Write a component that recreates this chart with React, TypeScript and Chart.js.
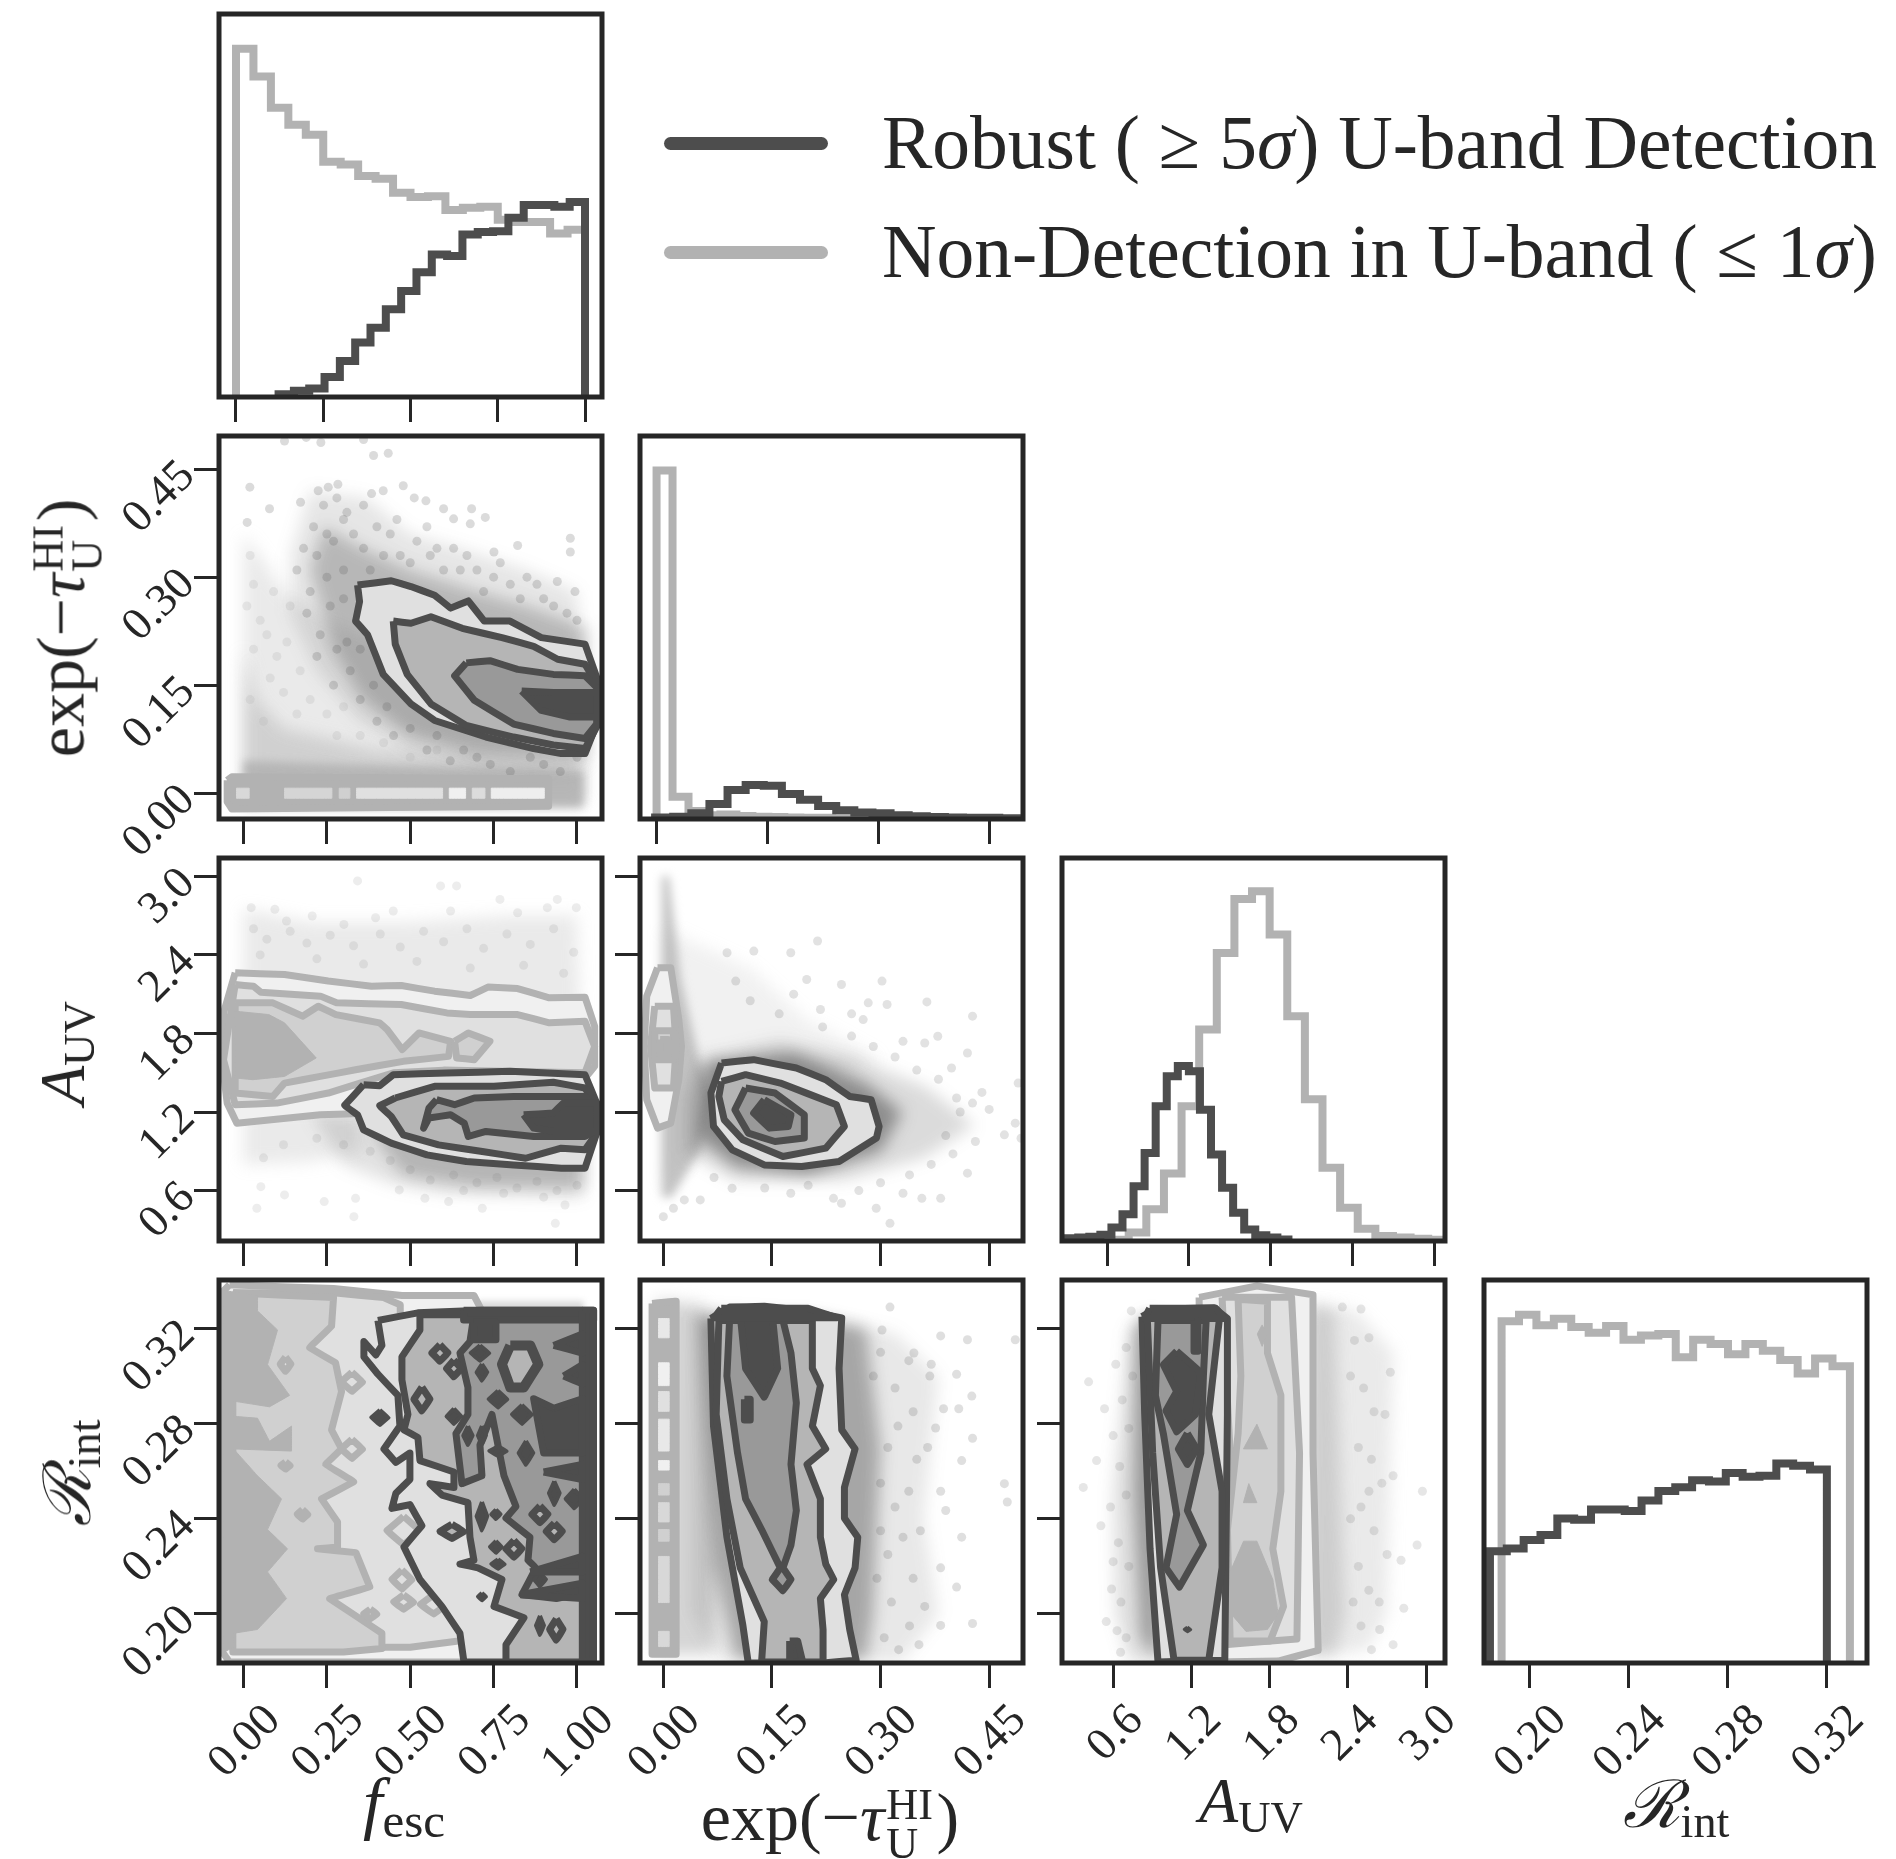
import React, { useEffect, useRef } from "react";
import { Chart, registerables } from "chart.js";

const DARK = "#4d4d4d";
const LIGHT = "#b2b2b2";
const INK = "#262626";
const SERIF = "'Liberation Serif', 'Times New Roman', serif";
const LIGHT_LEVELS = ["#f0f0f0", "#e0e0e0", "#d0d0d0", "#b2b2b2"];
const DARK_LEVELS = ["#e0e0e0", "#b5b5b5", "#999999", "#4d4d4d"];

// Axis ticks
const FESC_TICKS = [0, 0.25, 0.5, 0.75, 1];
const FESC_LABELS = ["0.00", "0.25", "0.50", "0.75", "1.00"];
const TAU_TICKS = [0, 0.15, 0.3, 0.45];
const TAU_LABELS = ["0.00", "0.15", "0.30", "0.45"];
const AUV_TICKS = [0.6, 1.2, 1.8, 2.4, 3.0];
const AUV_LABELS = ["0.6", "1.2", "1.8", "2.4", "3.0"];
const R_TICKS = [0.2, 0.24, 0.28, 0.32];
const R_LABELS = ["0.20", "0.24", "0.28", "0.32"];

// Histograms: heights as a fraction of the panel, first edge and bin width
const FESC_HIST_LIGHT = [0.909, 0.837, 0.755, 0.711, 0.685, 0.614, 0.607, 0.577, 0.57, 0.533, 0.522, 0.524, 0.488, 0.494, 0.497, 0.463, 0.457, 0.457, 0.427, 0.437];
const FESC_HIST_DARK = [0.007, 0.016, 0.022, 0.052, 0.094, 0.142, 0.181, 0.229, 0.277, 0.326, 0.372, 0.368, 0.424, 0.431, 0.433, 0.468, 0.501, 0.501, 0.497, 0.509];
const TAU_HIST_LIGHT = [0.91, 0.058, 0.021, 0.01, 0.012, 0.008, 0.006, 0.005, 0.004, 0.003, 0.003, 0.002, 0.002, 0.001, 0.001, 0.001, 0.001, 0.001, 0.001, 0.001];
const TAU_HIST_DARK = [0.004, 0.006, 0.015, 0.039, 0.076, 0.089, 0.087, 0.065, 0.05, 0.034, 0.023, 0.017, 0.015, 0.01, 0.007, 0.005, 0.004, 0.0035, 0.003, 0.002];
const AUV_HIST_LIGHT = [0.0, 0.003, 0.022, 0.083, 0.176, 0.352, 0.552, 0.752, 0.893, 0.913, 0.8, 0.587, 0.37, 0.191, 0.087, 0.032, 0.013, 0.009, 0.006, 0.003];
const AUV_HIST_DARK = [0.007, 0.009, 0.011, 0.016, 0.035, 0.07, 0.143, 0.23, 0.352, 0.43, 0.457, 0.443, 0.343, 0.226, 0.139, 0.074, 0.03, 0.015, 0.009, 0.004];
const R_HIST_LIGHT = [0.892, 0.909, 0.882, 0.899, 0.877, 0.862, 0.88, 0.844, 0.855, 0.859, 0.798, 0.844, 0.833, 0.806, 0.833, 0.815, 0.791, 0.756, 0.795, 0.775];
const R_HIST_DARK = [0.292, 0.299, 0.321, 0.334, 0.377, 0.374, 0.401, 0.401, 0.397, 0.424, 0.449, 0.459, 0.477, 0.474, 0.496, 0.486, 0.489, 0.521, 0.515, 0.505];

type P = number[];

// fesc vs exp(-tau)
const FT_DARK_1: P[] = [[0.342,0.289],[0.443,0.295],[0.502,0.287],[0.573,0.275],[0.621,0.257],[0.674,0.267],[0.722,0.239],[0.799,0.239],[0.893,0.216],[1.024,0.207],[1.059,0.161],[1.059,0.096],[1.024,0.055],[0.953,0.055],[0.87,0.062],[0.727,0.078],[0.573,0.101],[0.502,0.124],[0.419,0.165],[0.372,0.22],[0.336,0.239],[0.348,0.266]];
const FT_DARK_2: P[] = [[0.449,0.239],[0.502,0.236],[0.562,0.245],[0.656,0.229],[0.775,0.216],[0.87,0.204],[0.942,0.186],[1.024,0.179],[1.059,0.152],[1.059,0.092],[1.024,0.062],[0.929,0.067],[0.81,0.078],[0.668,0.094],[0.562,0.124],[0.491,0.165],[0.455,0.207]];
const FT_DARK_3: P[] = [[0.668,0.181],[0.739,0.184],[0.822,0.172],[0.929,0.165],[1.024,0.163],[1.059,0.147],[1.059,0.096],[1.024,0.076],[0.929,0.083],[0.81,0.096],[0.692,0.129],[0.633,0.163]];
const FT_DARK_4: P[] = [[0.834,0.142],[0.929,0.14],[1.059,0.14],[1.059,0.106],[0.976,0.106],[0.893,0.115]];
const FT_LIGHT_BAND: P[] = [[-0.049,0.018],[-0.035,0.023],[0.915,0.02],[0.915,-0.018],[-0.035,-0.022],[-0.049,-0.012]];
const FT_LIGHT_BAR_STARTS = [-0.021, 0.123, 0.287, 0.339, 0.617, 0.686, 0.743];
const FT_LIGHT_BAR_ENDS = [0.017, 0.265, 0.319, 0.597, 0.666, 0.724, 0.902];
const FT_LIGHT_BAR_LEVELS = ["#d8d8d8", "#d5d5d5", "#d0d0d0", "#e0e0e0", "#f0f0f0", "#dcdcdc", "#eeeeee"];
const FT_CLOUD_LIGHT_1: P[] = [[0,0],[0,0.36],[0.05,0.33],[0.12,0.28],[0.25,0.24],[0.45,0.2],[0.7,0.14],[1.02,0.12],[1.02,-0.01]];
const FT_CLOUD_LIGHT_2: P[] = [[0,-0.015],[0,0.2],[0.04,0.13],[0.12,0.09],[0.4,0.06],[1.02,0.04],[1.02,-0.015]];
const FT_CLOUD_LIGHT_3: P[] = [[0,0.045],[0.3,0.04],[0.7,0.035],[1.02,0.03],[1.02,-0.02],[0,-0.02]];
const FT_CLOUD_DARK_1: P[] = [[0.14,0.33],[0.2,0.42],[0.37,0.41],[0.5,0.36],[0.65,0.34],[0.85,0.31],[1.0,0.28],[1.03,0.04],[0.9,0.03],[0.7,0.04],[0.5,0.06],[0.35,0.1],[0.22,0.17],[0.14,0.25]];
const FT_CLOUD_DARK_2: P[] = [[0.2,0.31],[0.24,0.37],[0.36,0.34],[0.5,0.31],[0.7,0.28],[0.85,0.26],[1.03,0.23],[1.03,0.05],[0.7,0.055],[0.5,0.08],[0.36,0.13],[0.27,0.2]];
const FT_POINTS: P[] = [[0.123,0.489],[0.188,0.494],[0.232,0.487],[0.36,0.491],[0.39,0.469],[0.434,0.472],[0.019,0.425],[0.283,0.429],[0.254,0.425],[0.224,0.42],[0.479,0.427],[0.419,0.42],[0.384,0.416],[0.512,0.41],[0.547,0.406],[0.171,0.404],[0.078,0.395],[0.6,0.395],[0.684,0.395],[0.725,0.383],[0.68,0.374],[0.63,0.381],[0.011,0.376],[0.98,0.354],[0.98,0.335],[0.822,0.344],[0.751,0.335],[0.941,0.294],[0.994,0.28],[0.3,0.38],[0.27,0.35],[0.33,0.36],[0.36,0.34],[0.4,0.37],[0.44,0.36],[0.47,0.33],[0.52,0.35],[0.56,0.33],[0.6,0.31],[0.65,0.31],[0.7,0.31],[0.75,0.3],[0.8,0.29],[0.85,0.3],[0.9,0.27],[0.3,0.31],[0.25,0.3],[0.22,0.33],[0.2,0.28],[0.26,0.26],[0.23,0.22],[0.28,0.2],[0.32,0.17],[0.35,0.13],[0.4,0.1],[0.45,0.08],[0.55,0.06],[0.62,0.045],[0.7,0.05],[0.8,0.03],[0.9,0.04],[0.24,0.4],[0.28,0.41],[0.31,0.39],[0.36,0.4],[0.21,0.37],[0.25,0.36],[0.18,0.34],[0.16,0.31],[0.19,0.25],[0.22,0.19],[0.27,0.15],[0.31,0.21],[0.35,0.2],[0.38,0.31],[0.42,0.33],[0.46,0.38],[0.5,0.32],[0.55,0.37],[0.58,0.34],[0.63,0.34],[0.67,0.33],[0.72,0.28],[0.77,0.32],[0.83,0.27],[0.88,0.29],[0.93,0.26],[0.97,0.25],[1.0,0.24],[0.43,0.12],[0.5,0.09],[0.58,0.08],[0.66,0.06],[0.74,0.04],[0.86,0.05],[0.95,0.03],[1.0,0.05],[0.39,0.15],[0.34,0.24],[0.3,0.27]];
const FT_POINTS_LIGHT: P[] = [[0.02,0.33],[0.03,0.29],[0.01,0.26],[0.05,0.24],[0.03,0.2],[0.07,0.22],[0.1,0.19],[0.13,0.21],[0.08,0.16],[0.12,0.14],[0.17,0.17],[0.2,0.13],[0.16,0.11],[0.25,0.11],[0.3,0.12],[0.28,0.08],[0.35,0.08],[0.42,0.07],[0.5,0.05],[0.58,0.06],[0.66,0.09],[0.72,0.08],[0.8,0.07],[0.88,0.09],[0.94,0.07],[1.0,0.08],[0.06,0.1],[0.02,0.13],[0.14,0.26],[0.09,0.28]];

// fesc vs A_UV
const FA_LIGHT_1: P[] = [[-0.025,2.263],[0.123,2.25],[0.254,2.2],[0.384,2.161],[0.473,2.166],[0.573,2.123],[0.68,2.09],[0.733,2.154],[0.822,2.143],[0.917,2.072],[1.024,2.077],[1.053,1.855],[1.053,1.549],[1.024,1.46],[0.8,1.3],[0.384,1.192],[0.23,1.179],[-0.02,1.115],[-0.049,1.268],[-0.06,1.498],[-0.06,1.957]];
const FA_LIGHT_2: P[] = [[-0.025,2.174],[0.03,2.16],[0.052,2.115],[0.231,2.085],[0.279,2.034],[0.473,2.021],[0.61,1.957],[0.68,1.944],[0.822,1.944],[0.917,1.881],[1.024,1.893],[1.053,1.7],[1.024,1.5],[0.6,1.52],[0.45,1.5],[0.254,1.345],[0.1,1.268],[-0.025,1.256],[-0.06,1.6]];
const FA_LIGHT_3: P[] = [[-0.025,2.034],[0.088,2.034],[0.177,1.932],[0.224,2.008],[0.277,1.944],[0.408,1.881],[0.431,1.83],[0.476,1.677],[0.526,1.804],[0.621,1.74],[0.615,1.625],[0.479,1.587],[0.336,1.523],[0.23,1.472],[0.123,1.421],[0.088,1.319],[-0.025,1.345]];
const FA_LIGHT_3B: P[] = [[0.633,1.74],[0.674,1.804],[0.739,1.74],[0.692,1.6],[0.639,1.613]];
const FA_LIGHT_4: P[] = [[-0.025,1.97],[0.076,1.944],[0.123,1.881],[0.218,1.613],[0.123,1.472],[0.028,1.447],[-0.025,1.46]];
const FA_DARK_1: P[] = [[0.36,1.409],[0.408,1.401],[0.449,1.485],[0.609,1.498],[0.799,1.511],[1.024,1.485],[1.059,1.268],[1.059,1.039],[1.024,0.771],[0.953,0.771],[0.81,0.796],[0.668,0.822],[0.55,0.873],[0.443,0.962],[0.36,1.064],[0.342,1.179],[0.303,1.25]];
const FA_DARK_2: P[] = [[0.455,1.307],[0.573,1.396],[0.751,1.396],[0.929,1.427],[1.024,1.383],[1.059,1.243],[1.059,1.039],[1.024,0.911],[0.953,0.924],[0.846,0.847],[0.716,0.898],[0.585,0.949],[0.479,1.026],[0.443,1.166],[0.408,1.248]];
const FA_DARK_3: P[] = [[0.579,1.294],[0.633,1.256],[0.692,1.307],[0.81,1.319],[1.024,1.319],[1.059,1.217],[1.059,1.064],[1.024,1.013],[0.87,1.013],[0.727,1.052],[0.674,1.013],[0.662,1.115],[0.621,1.179],[0.556,1.154],[0.54,1.077],[0.556,1.23]];
const FA_DARK_4: P[] = [[0.84,1.179],[0.929,1.192],[0.959,1.268],[1.059,1.268],[1.059,1.052],[0.929,1.052],[0.87,1.077]];
const FA_CLOUD_LIGHT: P[] = [[0,2.75],[0.2,2.65],[0.5,2.65],[0.8,2.7],[1.0,2.7],[1.02,1.2],[0,1.2]];
const FA_CLOUD_LIGHT_LOW: P[] = [[0,1.2],[0.35,1.2],[0.35,0.9],[0.2,0.82],[0,0.8]];
const FA_CLOUD_DARK_1: P[] = [[0.2,1.2],[0.4,1.15],[0.6,1.1],[1.02,1.1],[1.02,0.55],[0.6,0.58],[0.45,0.65],[0.3,0.8]];
const FA_CLOUD_DARK_2: P[] = [[0.38,1.05],[1.02,0.95],[1.02,0.62],[0.7,0.63],[0.48,0.72]];
const FA_POINTS: P[] = [[0.342,2.965],[0.591,2.927],[0.639,2.927],[0.769,2.824],[0.023,2.761],[0.094,2.748],[0.941,2.824],[0.998,2.761],[0.911,2.761],[0.822,2.722],[0.621,2.735],[0.449,2.735],[0.206,2.697],[0.129,2.659],[0.396,2.684],[0.301,2.633],[0.04,0.465],[0.242,0.516],[0.331,0.401],[0.123,0.567],[0.716,0.465],[0.935,0.35],[0.544,0.541],[0.615,0.516],[0.964,0.49],[0.052,0.63],[0.336,0.541],[0.467,0.605],[0.03,2.6],[0.07,2.52],[0.14,2.58],[0.19,2.49],[0.26,2.55],[0.33,2.47],[0.41,2.56],[0.47,2.46],[0.54,2.58],[0.6,2.5],[0.67,2.6],[0.72,2.45],[0.79,2.56],[0.86,2.48],[0.93,2.6],[0.99,2.42],[0.05,2.4],[0.22,2.37],[0.36,2.33],[0.52,2.35],[0.68,2.3],[0.84,2.32],[0.96,2.26],[0.56,0.68],[0.63,0.72],[0.7,0.66],[0.76,0.7],[0.82,0.62],[0.88,0.67],[0.94,0.6],[1.0,0.64],[0.5,0.76],[0.44,0.83],[0.38,0.9],[0.3,0.95],[0.22,1.0],[0.12,0.95],[0.06,0.85],[0.66,0.6],[0.78,0.58],[0.9,0.55]];

// fesc vs R_int
const FR_LIGHT_1: P[] = [[-0.042,0.3384],[0.27,0.3368],[0.475,0.3339],[0.691,0.3339],[0.715,0.3274],[1.004,0.3274],[1.028,0.1798],[0.27,0.1798],[-0.042,0.1798],[-0.0625,0.1839],[-0.0625,0.3355]];
const FR_LIGHT_2: P[] = [[-0.03,0.335],[0.27,0.335],[0.42,0.333],[0.47,0.33],[0.47,0.3],[0.55,0.28],[0.62,0.26],[0.72,0.25],[0.8,0.22],[0.75,0.19],[0.72,0.19],[0.5,0.186],[0.35,0.186],[-0.03,0.186]];
const FR_LIGHT_3: P[] = [[-0.032,0.335],[0.27,0.333],[0.264,0.321],[0.198,0.312],[0.276,0.3056],[0.294,0.2935],[0.264,0.2774],[0.294,0.2694],[0.246,0.2629],[0.331,0.2556],[0.234,0.2484],[0.282,0.2387],[0.282,0.2282],[0.222,0.2274],[0.337,0.2258],[0.379,0.2113],[0.258,0.2065],[0.415,0.1919],[0.415,0.1855],[0.3,0.184],[-0.032,0.184]];
const FR_LIGHT_4: P[] = [[-0.06,0.336],[0.042,0.3339],[0.042,0.3274],[0.102,0.3194],[0.072,0.3048],[0.138,0.2919],[0.078,0.2871],[-0.03,0.2895],[-0.03,0.2831],[0.042,0.2823],[0.078,0.2726],[0.144,0.279],[0.144,0.2685],[-0.03,0.2694],[0.042,0.2581],[0.114,0.2484],[0.072,0.2355],[0.132,0.2274],[0.072,0.2177],[0.129,0.2065],[0.042,0.1935],[-0.03,0.1919],[-0.03,0.186],[-0.06,0.1839]];
const FR_LIGHT_SPOTS: P[] = [[0.126,0.305,0.016,0.003],[0.126,0.2624,0.014,0.0015],[0.177,0.2419,0.016,0.002],[0.325,0.2976,0.032,0.004],[0.325,0.2694,0.032,0.004],[0.48,0.235,0.05,0.006],[0.38,0.2,0.02,0.002],[0.48,0.205,0.03,0.003],[0.475,0.2145,0.03,0.004],[0.57,0.204,0.04,0.004]];
const FR_DARK_1: P[] = [[0.403,0.3234],[0.523,0.3266],[0.715,0.3277],[1.016,0.3277],[1.046,0.3242],[1.049,0.1798],[0.661,0.1798],[0.649,0.1919],[0.595,0.2032],[0.529,0.2145],[0.481,0.2282],[0.535,0.2371],[0.499,0.246],[0.445,0.2444],[0.457,0.2508],[0.499,0.2565],[0.499,0.2677],[0.457,0.2637],[0.421,0.2694],[0.469,0.279],[0.463,0.2919],[0.403,0.3008],[0.361,0.3081],[0.361,0.3145],[0.397,0.3089],[0.415,0.3129]];
const FR_DARK_2: P[] = [[0.529,0.3258],[0.529,0.3194],[0.475,0.3081],[0.475,0.2984],[0.493,0.2839],[0.481,0.2774],[0.523,0.2742],[0.529,0.2645],[0.631,0.2597],[0.631,0.2532],[0.559,0.2548],[0.595,0.25],[0.673,0.2468],[0.679,0.2323],[0.691,0.2226],[0.649,0.221],[0.703,0.2194],[0.775,0.2145],[0.751,0.2032],[0.841,0.1984],[0.787,0.1871],[0.787,0.1798],[1.049,0.1798],[1.049,0.3258]];
const FR_DARK_3: P[] = [[0.691,0.3258],[0.679,0.3145],[0.649,0.3097],[0.673,0.2952],[0.673,0.2839],[0.637,0.2758],[0.655,0.2548],[0.715,0.2581],[0.709,0.271],[0.745,0.2839],[0.781,0.2581],[0.817,0.2452],[0.787,0.2403],[0.859,0.2323],[0.853,0.2226],[0.877,0.2194],[0.835,0.2081],[0.938,0.2065],[1.049,0.2097],[1.049,0.3258]];
const FR_DARK_TOP: P[] = [[0.66,0.3277],[1.05,0.3277],[1.05,0.3236],[0.66,0.3236]];
const FR_DARK_COLUMN: P[] = [[1.016,0.3277],[1.049,0.3277],[1.049,0.18],[1.016,0.18]];
const FR_DARK_PATCH_1: P[] = [[0.93,0.2865],[1.016,0.2905],[1.016,0.2677],[0.9,0.2677],[0.87,0.2905]];
const FR_DARK_PATCH_2: P[] = [[0.69,0.3226],[0.757,0.3226],[0.757,0.3153],[0.69,0.3153]];
const FR_DARK_WEDGE_1: P[] = [[0.93,0.3129],[1.016,0.3177],[1.016,0.3097]];
const FR_DARK_WEDGE_2: P[] = [[0.96,0.3],[1.016,0.3048],[1.016,0.2968]];
const FR_DARK_WEDGE_3: P[] = [[0.9,0.2597],[1.016,0.2629],[1.016,0.2565]];
const FR_DARK_WEDGE_4: P[] = [[0.86,0.2177],[1.016,0.2242],[1.016,0.2177]];
const FR_DARK_WEDGE_5: P[] = [[0.83,0.2081],[1.016,0.2129],[1.016,0.2065]];
const FR_DARK_RING: P[] = [[0.8,0.3129],[0.86,0.3129],[0.884,0.305],[0.84,0.2952],[0.8,0.2952],[0.775,0.305]];
const FR_DARK_SPOTS: P[] = [[0.409,0.2826,0.026,0.0032],[0.631,0.2831,0.022,0.0032],[0.709,0.3097,0.028,0.0032],[0.715,0.3016,0.016,0.0035],[0.763,0.2903,0.028,0.0035],[0.673,0.275,0.014,0.004],[0.715,0.275,0.012,0.004],[0.763,0.2685,0.026,0.002],[0.847,0.2677,0.022,0.005],[0.835,0.2839,0.03,0.004],[0.715,0.2411,0.016,0.006],[0.757,0.2419,0.014,0.002],[0.757,0.2282,0.018,0.0025],[0.763,0.221,0.02,0.002],[0.889,0.2145,0.018,0.003],[0.715,0.2073,0.012,0.0015],[0.889,0.1952,0.012,0.004],[0.932,0.2508,0.016,0.005],[0.992,0.2484,0.026,0.004]];
const FR_DARK_RINGS: P[] = [[0.535,0.2903,0.024,0.005],[0.589,0.3097,0.024,0.0035],[0.631,0.3032,0.022,0.0035],[0.889,0.2419,0.024,0.0035],[0.932,0.2347,0.024,0.0035],[0.625,0.2347,0.036,0.003],[0.811,0.2274,0.024,0.0035],[0.938,0.1935,0.02,0.0045]];
const FR_CLOUD_TOP: P[] = [[0.7,0.3315],[1.02,0.3315],[1.02,0.3268],[0.7,0.3268]];

// exp(-tau) vs A_UV
const TA_LIGHT_1: P[] = [[-0.008,2.3015],[0.0103,2.3015],[0.0214,1.906],[0.0251,1.702],[0.0214,1.447],[0.0103,1.115],[-0.008,1.077],[-0.0229,1.294],[-0.0266,1.702],[-0.0229,2.085]];
const TA_LIGHT_2: P[] = [[-0.0118,2.008],[0.014,2.008],[0.0177,1.702],[0.014,1.383],[-0.0118,1.383],[-0.0177,1.702]];
const TA_LIGHT_3: P[] = [[-0.0118,1.82],[0.014,1.82],[0.014,1.6],[-0.0118,1.6]];
const TA_LIGHT_4: P[] = [[-0.0044,1.753],[0.0066,1.753],[0.0066,1.638],[-0.0044,1.638]];
const TA_DARK_1: P[] = [[0.0804,1.574],[0.1247,1.6],[0.1837,1.536],[0.2243,1.447],[0.2574,1.319],[0.287,1.294],[0.298,1.09],[0.2943,1.001],[0.2427,0.822],[0.1911,0.784],[0.1394,0.796],[0.0952,0.911],[0.0693,1.09],[0.0657,1.345]];
const TA_DARK_2: P[] = [[0.0804,1.434],[0.1136,1.485],[0.1616,1.421],[0.239,1.256],[0.2501,1.09],[0.2243,0.924],[0.1652,0.86],[0.1099,0.988],[0.0841,1.141],[0.0767,1.319]];
const TA_DARK_3: P[] = [[0.1136,1.383],[0.1542,1.345],[0.1947,1.179],[0.1947,1.001],[0.1542,0.975],[0.1173,1.039],[0.0988,1.217]];
const TA_DARK_4: P[] = [[0.1394,1.294],[0.1763,1.179],[0.1726,1.09],[0.1468,1.077],[0.1247,1.192]];
const TA_CLOUD_LIGHT_1: P[] = [[0,2.6],[0.12,2.3],[0.2,1.9],[0.3,1.6],[0.15,1.3],[0.05,0.9],[0,0.6]];
const TA_CLOUD_LIGHT_2: P[] = [[-0.002,3.0],[0.008,3.0],[0.025,2.2],[0.05,1.6],[0.07,1.3],[0.05,0.9],[0.012,0.55],[-0.002,0.55]];
const TA_CLOUD_DARK_1: P[] = [[0.05,1.6],[0.16,1.74],[0.26,1.62],[0.36,1.4],[0.43,1.1],[0.36,0.85],[0.25,0.68],[0.1,0.68],[0.03,0.9],[0.03,1.3]];
const TA_CLOUD_DARK_2: P[] = [[0.06,1.58],[0.18,1.65],[0.28,1.42],[0.33,1.2],[0.3,0.9],[0.2,0.72],[0.1,0.78],[0.05,1.0]];
const TA_POINTS: P[] = [[0.213,2.506],[0.176,2.416],[0.125,2.429],[0.088,2.416],[0.302,2.2],[0.246,2.174],[0.198,2.212],[0.364,2.041],[0.283,2.034],[0.217,1.983],[0.427,1.932],[0.309,2.021],[0.276,1.906],[0.42,1.651],[0.331,1.74],[0.361,1.727],[0.379,1.779],[0.49,1.421],[0.398,1.536],[0.427,1.268],[0.486,1.115],[0.471,1.026],[0.494,1.0],[0.405,1.307],[0.431,0.975],[0.42,0.733],[0.383,0.541],[0.313,0.35],[0.357,0.541],[0.294,0.465],[0.246,0.503],[0.176,0.58],[0.095,0.618],[0.051,0.529],[0.029,0.529],[0.014,0.465],[0,0.401],[0.331,0.58],[0.235,0.541],[0.38,1.45],[0.35,1.52],[0.32,1.62],[0.29,1.7],[0.41,1.2],[0.44,1.35],[0.45,1.22],[0.39,1.02],[0.4,0.88],[0.37,0.8],[0.34,0.72],[0.3,0.66],[0.27,0.6],[0.2,0.64],[0.14,0.62],[0.07,0.7],[0.26,1.78],[0.22,1.85],[0.16,1.95],[0.12,2.05],[0.1,2.2],[0.18,2.1],[0.26,1.95]];

// exp(-tau) vs R_int
const TR_LIGHT_BAND: P[] = [[-0.0155,0.3305],[0.0177,0.3315],[0.0177,0.1831],[-0.0155,0.1831]];
const TR_LIGHT_BAR_TOPS = [0.3242, 0.3056, 0.2935, 0.2819, 0.2645, 0.2548, 0.2468, 0.2355, 0.2242, 0.1927];
const TR_LIGHT_BAR_BOTTOMS = [0.3161, 0.296, 0.2852, 0.2685, 0.2605, 0.25, 0.2387, 0.2306, 0.2048, 0.1863];
const TR_LIGHT_BAR_LEVELS = ["#e8e8e8", "#f0f0f0", "#e0e0e0", "#e8e8e8", "#f0f0f0", "#d0d0d0", "#d8d8d8", "#d0d0d0", "#d8d8d8", "#d8d8d8"];
const TR_DARK_1: P[] = [[0.0657,0.3242],[0.0915,0.329],[0.1394,0.3294],[0.1984,0.3274],[0.2464,0.3245],[0.2427,0.3032],[0.2464,0.2774],[0.2648,0.2694],[0.2501,0.2532],[0.2501,0.2403],[0.2685,0.2323],[0.2648,0.2194],[0.2501,0.2081],[0.2574,0.1935],[0.2663,0.1806],[0.2206,0.1794],[0.1173,0.1794],[0.1099,0.1952],[0.0878,0.2323],[0.0693,0.279]];
const TR_DARK_2: P[] = [[0.0767,0.3234],[0.2058,0.3234],[0.2058,0.3032],[0.2169,0.296],[0.2058,0.279],[0.2243,0.2694],[0.1984,0.2629],[0.2169,0.2484],[0.2169,0.2323],[0.2243,0.221],[0.2353,0.2145],[0.2169,0.2065],[0.2206,0.1935],[0.2206,0.1798],[0.1357,0.1798],[0.1394,0.1968],[0.1062,0.2194],[0.0878,0.2484],[0.073,0.2839]];
const TR_DARK_3: P[] = [[0.0915,0.3234],[0.1652,0.3234],[0.1763,0.3097],[0.1837,0.2887],[0.1763,0.2629],[0.1837,0.2435],[0.1763,0.229],[0.1652,0.2194],[0.1763,0.2145],[0.1652,0.2097],[0.1505,0.2145],[0.1616,0.2194],[0.1357,0.2355],[0.1136,0.2484],[0.1025,0.2677],[0.0878,0.3]];
const TR_DARK_4: P[] = [[0.1062,0.3258],[0.1505,0.3258],[0.1579,0.3032],[0.1394,0.2911],[0.1136,0.3032]];
const TR_DARK_TOP: P[] = [[0.08,0.3285],[0.2,0.3285],[0.24,0.3245],[0.07,0.3245]];
const TR_DARK_SPOT: P[] = [[0.112,0.2903],[0.12,0.2903],[0.12,0.2816],[0.112,0.2816]];
const TR_DARK_FOOT: P[] = [[0.1745,0.1887],[0.1855,0.1887],[0.1925,0.1798],[0.1745,0.1798]];
const TR_CLOUD_LIGHT: P[] = [[-0.01,0.332],[0.05,0.33],[0.08,0.32],[0.07,0.183],[-0.01,0.183]];
const TR_CLOUD_DARK_1: P[] = [[0.04,0.328],[0.22,0.325],[0.32,0.318],[0.38,0.3],[0.36,0.24],[0.38,0.2],[0.33,0.18],[0.08,0.18],[0.04,0.2]];
const TR_CLOUD_DARK_2: P[] = [[0.05,0.325],[0.2,0.325],[0.28,0.32],[0.3,0.27],[0.29,0.2],[0.28,0.181],[0.1,0.181],[0.07,0.22]];
const TR_POINTS: P[] = [[0.42,0.3153],[0.486,0.3153],[0.383,0.3169],[0.405,0.3008],[0.426,0.2916],[0.387,0.2863],[0.408,0.2863],[0.427,0.2739],[0.376,0.2782],[0.471,0.2548],[0.475,0.2471],[0.412,0.2645],[0.383,0.2516],[0.39,0.2435],[0.412,0.2323],[0.383,0.2194],[0.405,0.2113],[0.427,0.196],[0.383,0.1952],[0.353,0.1871],[0.361,0.2032],[0.331,0.2323],[0.339,0.2516],[0.339,0.3065],[0.313,0.329],[0.346,0.3097],[0.368,0.3],[0.302,0.3194],[0.324,0.279],[0.3,0.31],[0.32,0.295],[0.345,0.285],[0.31,0.27],[0.35,0.265],[0.32,0.245],[0.355,0.235],[0.31,0.225],[0.345,0.215],[0.315,0.205],[0.34,0.195],[0.305,0.19],[0.325,0.185],[0.365,0.27],[0.37,0.305],[0.29,0.3],[0.3,0.255],[0.3,0.235],[0.295,0.215]];

// A_UV vs R_int
const AR_LIGHT_1: P[] = [[1.259,0.3331],[1.702,0.3379],[2.132,0.3342],[2.132,0.2677],[2.172,0.1847],[1.865,0.1802],[1.374,0.1798],[1.272,0.2677]];
const AR_LIGHT_2: P[] = [[1.435,0.3331],[1.968,0.3331],[2.029,0.2677],[2.009,0.1895],[1.456,0.1871],[1.497,0.2677]];
const AR_LIGHT_3: P[] = [[1.558,0.3323],[1.783,0.3315],[1.783,0.3097],[1.886,0.2919],[1.886,0.2516],[1.824,0.2274],[1.906,0.2032],[1.804,0.1887],[1.497,0.1887],[1.476,0.2355],[1.558,0.2758],[1.579,0.3]];
const AR_LIGHT_4A: P[] = [[1.742,0.3215],[1.78,0.3177],[1.742,0.3125],[1.705,0.3177]];
const AR_LIGHT_4B: P[] = [[1.702,0.2798],[1.783,0.2694],[1.599,0.2694]];
const AR_LIGHT_4C: P[] = [[1.64,0.2548],[1.702,0.2468],[1.599,0.2468]];
const AR_LIGHT_4D: P[] = [[1.6,0.2306],[1.702,0.2306],[1.824,0.2145],[1.865,0.2],[1.783,0.1935],[1.619,0.1927],[1.456,0.2032],[1.497,0.2177]];
const AR_DARK_1: P[] = [[0.821,0.325],[0.924,0.3282],[1.374,0.3287],[1.476,0.3242],[1.476,0.2839],[1.456,0.1806],[0.944,0.1798],[0.883,0.2274],[0.842,0.2839]];
const AR_DARK_2: P[] = [[0.862,0.3242],[1.415,0.3242],[1.333,0.2839],[1.435,0.2516],[1.435,0.2194],[1.333,0.1806],[1.067,0.1806],[0.964,0.2194],[0.903,0.2677]];
const AR_DARK_3: P[] = [[0.944,0.3234],[1.313,0.3234],[1.292,0.3],[1.272,0.2677],[1.169,0.2435],[1.292,0.229],[1.108,0.2113],[1.005,0.2194],[1.087,0.2419],[0.985,0.2758],[0.924,0.2919]];
const AR_DARK_4: P[] = [[1.087,0.3105],[1.272,0.3016],[1.231,0.2839],[1.087,0.2766],[1.005,0.2855],[1.087,0.2935],[0.985,0.3048]];
const AR_DARK_TOP: P[] = [[0.88,0.3285],[1.39,0.3285],[1.45,0.3242],[0.84,0.3242]];
const AR_DARK_DIAMOND: P[] = [[1.169,0.276],[1.24,0.2694],[1.169,0.2628],[1.1,0.2694]];
const AR_DARK_BAR: P[] = [[1.22,0.3234],[1.25,0.3234],[1.25,0.3105],[1.22,0.3105]];
const AR_DARK_DOT: P[] = [[1.169,0.1945],[1.195,0.1935],[1.169,0.1925],[1.145,0.1935]];
const AR_CLOUD_LIGHT_1: P[] = [[2.1,0.33],[2.45,0.328],[2.75,0.31],[2.7,0.2],[2.55,0.185],[2.1,0.182]];
const AR_CLOUD_LIGHT_2: P[] = [[2.1,0.33],[2.3,0.328],[2.38,0.2],[2.3,0.183],[2.1,0.183]];
const AR_CLOUD_DARK_1: P[] = [[0.83,0.325],[0.72,0.32],[0.6,0.25],[0.62,0.2],[0.72,0.18],[0.95,0.18],[0.95,0.325]];
const AR_CLOUD_DARK_2: P[] = [[0.85,0.325],[0.78,0.32],[0.76,0.25],[0.82,0.19],[0.95,0.18],[0.95,0.325]];
const AR_POINTS: P[] = [[0.412,0.2976],[0.371,0.2532],[0.534,0.2863],[0.473,0.2645],[0.506,0.2371],[0.588,0.2105],[0.547,0.1968],[0.657,0.1839],[0.739,0.3274],[2.5,0.3282],[2.725,0.3016],[2.746,0.2581],[2.971,0.2516],[2.93,0.229],[2.828,0.2024],[2.746,0.1871],[2.643,0.1935],[2.807,0.2226],[2.561,0.2516],[2.684,0.2839],[2.561,0.3161],[2.357,0.329],[0.62,0.305],[0.67,0.29],[0.6,0.275],[0.65,0.262],[0.58,0.245],[0.64,0.23],[0.6,0.222],[0.66,0.205],[0.63,0.193],[0.7,0.312],[0.72,0.278],[0.7,0.25],[0.72,0.22],[0.7,0.19],[0.75,0.3],[2.45,0.315],[2.52,0.295],[2.6,0.285],[2.48,0.27],[2.58,0.265],[2.66,0.255],[2.5,0.245],[2.6,0.235],[2.7,0.225],[2.48,0.22],[2.56,0.21],[2.64,0.205],[2.5,0.195],[2.58,0.185],[2.42,0.3],[2.42,0.24],[2.44,0.205]];

// Layout of the grid
const COL_X = [219, 640, 1062, 1484];
const ROW_Y = [14, 436, 858, 1280];
const SIZE = 383;
const M = { l: 170, t: 30, r: 30, b: 220 };

const AXES: Record<string, any> = {
  fesc: { ticks: FESC_TICKS, labels: FESC_LABELS, hist: [-0.0487, 1.0487], pair: [-0.0735, 1.075], offset: 30 },
  tau: { ticks: TAU_TICKS, labels: TAU_LABELS, hist: [-0.0224, 0.4956], pair: [-0.0322, 0.4967], pairY: [-0.0358, 0.496], offset: 30 },
  auv: { ticks: AUV_TICKS, labels: AUV_LABELS, hist: [0.268, 3.079], pair: [0.208, 3.144], pairY: [0.215, 3.14], offset: 23 },
  r: { ticks: R_TICKS, labels: R_LABELS, hist: [0.1816, 0.3362], pairY: [0.1794, 0.3404], offset: 30 },
};

const xy = (pts: P[]) => pts.map((p) => ({ x: p[0], y: p[1] }));
const closed = (pts: P[]) => xy([...pts, pts[0]]);
const contour = (pts: P[], fill: string, line: string, width = 7) => ({
  data: closed(pts), showLine: true, fill: "shape", backgroundColor: fill, borderColor: line,
  borderWidth: width, pointRadius: 0, tension: 0.0001, borderJoinStyle: "round",
});
const cloud = (pts: P[], fill: string, blurPx = 8) => ({
  data: closed(pts), showLine: true, fill: "shape", backgroundColor: fill, borderWidth: 0,
  borderColor: "transparent", pointRadius: 0, tension: 0.0001, blurPx,
});
const dots = (pts: P[], color: string) => ({
  data: xy(pts), showLine: false, pointRadius: 4.5, pointBorderWidth: 0, pointBackgroundColor: color,
});
const diamond = (s: P): P[] => [[s[0], s[1] + s[3]], [s[0] + s[2], s[1]], [s[0], s[1] - s[3]], [s[0] - s[2], s[1]]];
const box = (x0: number, x1: number, y0: number, y1: number): P[] => [[x0, y1], [x1, y1], [x1, y0], [x0, y0]];
const steps = (start: number, width: number, values: number[], color: string) => {
  const pts: P[] = [[start, 0]];
  values.forEach((v, i) => { pts.push([start + i * width, v]); pts.push([start + (i + 1) * width, v]); });
  pts.push([start + values.length * width, 0]);
  return { data: xy(pts), showLine: true, borderColor: color, borderWidth: 8, pointRadius: 0, tension: 0.0001, borderJoinStyle: "miter", fill: false };
};

const levels = (sets: P[][], palette: string[], line: string) => sets.map((s, i) => contour(s, palette[i], line));
const G = (a: number) => `rgba(178,178,178,${a})`;
const K = (a: number) => `rgba(77,77,77,${a})`;

const PANELS: any[] = [
  { col: 0, row: 0, x: "fesc", sets: [steps(0, 0.05, FESC_HIST_LIGHT, LIGHT), steps(0.122, 0.0439, FESC_HIST_DARK, DARK)] },
  { col: 1, row: 1, x: "tau", sets: [steps(0, 0.0216, TAU_HIST_LIGHT, LIGHT), steps(-0.002, 0.0245, TAU_HIST_DARK, DARK)] },
  { col: 2, row: 2, x: "auv", sets: [steps(0.499, 0.1293, AUV_HIST_LIGHT, LIGHT), steps(0.306, 0.0812, AUV_HIST_DARK, DARK)] },
  { col: 3, row: 3, x: "r", sets: [steps(0.1887, 0.00703, R_HIST_LIGHT, LIGHT), steps(0.184, 0.0068, R_HIST_DARK, DARK)] },
  {
    col: 0, row: 1, x: "fesc", y: "tau",
    sets: [
      cloud(FT_CLOUD_LIGHT_1, G(0.28)), cloud(FT_CLOUD_LIGHT_2, G(0.45)), cloud(FT_CLOUD_LIGHT_3, G(0.85), 4), dots(FT_POINTS_LIGHT, G(0.25)),
      cloud(FT_CLOUD_DARK_1, K(0.14)), cloud(FT_CLOUD_DARK_2, K(0.3)), dots(FT_POINTS, K(0.2)),
      contour(FT_LIGHT_BAND, LIGHT, LIGHT),
      ...FT_LIGHT_BAR_STARTS.map((s, i) => contour(box(s, FT_LIGHT_BAR_ENDS[i], -0.007, 0.007), FT_LIGHT_BAR_LEVELS[i], FT_LIGHT_BAR_LEVELS[i], 1)),
      ...levels([FT_DARK_1, FT_DARK_2, FT_DARK_3, FT_DARK_4], DARK_LEVELS, DARK),
    ],
  },
  {
    col: 0, row: 2, x: "fesc", y: "auv",
    sets: [
      cloud(FA_CLOUD_LIGHT, G(0.28)), cloud(FA_CLOUD_LIGHT_LOW, G(0.28)), cloud(FA_CLOUD_DARK_1, K(0.16)), cloud(FA_CLOUD_DARK_2, K(0.3)), dots(FA_POINTS, K(0.1)),
      ...levels([FA_LIGHT_1, FA_LIGHT_2, FA_LIGHT_3], LIGHT_LEVELS, LIGHT),
      contour(FA_LIGHT_3B, LIGHT_LEVELS[2], LIGHT), contour(FA_LIGHT_4, LIGHT, LIGHT, 1),
      ...levels([FA_DARK_1, FA_DARK_2, FA_DARK_3, FA_DARK_4], DARK_LEVELS, DARK),
    ],
  },
  {
    col: 0, row: 3, x: "fesc", y: "r",
    sets: [
      cloud(FR_CLOUD_TOP, G(0.5), 3),
      ...levels([FR_LIGHT_1, FR_LIGHT_2, FR_LIGHT_3], LIGHT_LEVELS, LIGHT),
      contour(FR_LIGHT_4, LIGHT, LIGHT, 1),
      ...FR_LIGHT_SPOTS.map((s) => contour(diamond(s), LIGHT_LEVELS[1], LIGHT)),
      ...levels([FR_DARK_1, FR_DARK_2, FR_DARK_3], DARK_LEVELS, DARK),
      contour(FR_DARK_RING, DARK_LEVELS[1], DARK, 10),
      ...FR_DARK_RINGS.map((s) => contour(diamond(s), DARK_LEVELS[1], DARK)),
      ...FR_DARK_SPOTS.map((s) => contour(diamond(s), DARK, DARK, 4)),
      ...[FR_DARK_TOP, FR_DARK_COLUMN, FR_DARK_PATCH_1, FR_DARK_PATCH_2, FR_DARK_WEDGE_1, FR_DARK_WEDGE_2, FR_DARK_WEDGE_3, FR_DARK_WEDGE_4, FR_DARK_WEDGE_5].map((s) => contour(s, DARK, DARK)),
    ],
  },
  {
    col: 1, row: 2, x: "tau", y: "auv",
    sets: [
      cloud(TA_CLOUD_LIGHT_1, G(0.18)), cloud(TA_CLOUD_LIGHT_2, G(0.75), 5), cloud(TA_CLOUD_DARK_1, K(0.2)), cloud(TA_CLOUD_DARK_2, K(0.55)), dots(TA_POINTS, K(0.16)),
      ...levels([TA_LIGHT_1, TA_LIGHT_2, TA_LIGHT_3, TA_LIGHT_4], LIGHT_LEVELS, LIGHT),
      ...levels([TA_DARK_1, TA_DARK_2, TA_DARK_3, TA_DARK_4], DARK_LEVELS, DARK),
    ],
  },
  {
    col: 1, row: 3, x: "tau", y: "r",
    sets: [
      cloud(TR_CLOUD_LIGHT, G(0.55)), cloud(TR_CLOUD_DARK_1, K(0.13)), cloud(TR_CLOUD_DARK_2, K(0.42)), dots(TR_POINTS, K(0.18)),
      contour(TR_LIGHT_BAND, LIGHT, LIGHT),
      ...TR_LIGHT_BAR_TOPS.map((t, i) => contour(box(-0.0066, 0.0081, TR_LIGHT_BAR_BOTTOMS[i], t), TR_LIGHT_BAR_LEVELS[i], TR_LIGHT_BAR_LEVELS[i], 1)),
      ...levels([TR_DARK_1, TR_DARK_2, TR_DARK_3, TR_DARK_4], DARK_LEVELS, DARK),
      contour(TR_DARK_TOP, DARK, DARK), contour(TR_DARK_SPOT, DARK, DARK), contour(TR_DARK_FOOT, DARK, DARK),
    ],
  },
  {
    col: 2, row: 3, x: "auv", y: "r",
    sets: [
      cloud(AR_CLOUD_LIGHT_1, G(0.28)), cloud(AR_CLOUD_LIGHT_2, G(0.5)), cloud(AR_CLOUD_DARK_1, K(0.18)), cloud(AR_CLOUD_DARK_2, K(0.5)), dots(AR_POINTS, K(0.14)),
      ...levels([AR_LIGHT_1, AR_LIGHT_2, AR_LIGHT_3], LIGHT_LEVELS, LIGHT),
      ...[AR_LIGHT_4A, AR_LIGHT_4B, AR_LIGHT_4C, AR_LIGHT_4D].map((s) => contour(s, LIGHT, LIGHT, 1)),
      ...levels([AR_DARK_1, AR_DARK_2, AR_DARK_3, AR_DARK_4], DARK_LEVELS, DARK),
      contour(AR_DARK_TOP, DARK, DARK), contour(AR_DARK_DIAMOND, DARK, DARK), contour(AR_DARK_BAR, DARK, DARK), contour(AR_DARK_DOT, DARK, DARK, 3),
    ],
  },
];

const framePlugin = {
  id: "panelFrame",
  afterDraw(chart: any) {
    const { ctx, chartArea: a } = chart;
    ctx.save();
    ctx.strokeStyle = INK;
    ctx.lineWidth = 5;
    ctx.strokeRect(a.left, a.top, a.right - a.left, a.bottom - a.top);
    ctx.restore();
  },
};
// Registered ahead of the filler so the soft point-clouds get their blur first.
const blurPlugin = {
  id: "cloudBlur",
  beforeDatasetDraw(chart: any, args: any) {
    const b = chart.data.datasets[args.index].blurPx;
    if (b) chart.ctx.filter = `blur(${b}px)`;
  },
  afterDatasetDraw(chart: any) { chart.ctx.filter = "none"; },
};
Chart.register(blurPlugin as any);
Chart.register(...registerables);

const scaleOptions = (axis: any, range: number[], horizontal: boolean, showLabels: boolean) => ({
  type: "linear",
  min: range[0],
  max: range[1],
  afterBuildTicks: (s: any) => { s.ticks = axis ? axis.ticks.map((value: number) => ({ value })) : []; },
  afterFit: (s: any) => {
    if (horizontal) s.height = M.b; else s.width = M.l;
    s.paddingLeft = s.paddingRight = s.paddingTop = s.paddingBottom = 0;
  },
  border: { display: false },
  grid: { display: true, drawOnChartArea: false, drawTicks: !!axis, tickLength: 25, tickWidth: 3, tickColor: INK },
  ticks: {
    display: showLabels,
    autoSkip: false,
    minRotation: 45,
    maxRotation: 45,
    padding: 6,
    labelOffset: horizontal && axis ? axis.offset : 0,
    color: INK,
    font: { family: "Liberation Serif", size: 46 },
    callback: (_v: any, i: number) => (axis ? axis.labels[i] : ""),
  },
});

const scripts = (sup: string, sub: string) => (
  <span style={{ display: "inline-block", position: "relative", width: "0.74em", height: "1em", marginLeft: "0.03em", verticalAlign: "baseline" }}>
    <span style={{ position: "absolute", left: 0, bottom: "0.3em", fontSize: "0.65em", lineHeight: 1 }}>{sup}</span>
    <span style={{ position: "absolute", left: 0, top: "1.14em", fontSize: "0.65em", lineHeight: 1 }}>{sub}</span>
  </span>
);
const Sub = ({ t }: { t: string }) => <span style={{ fontSize: "0.7em", position: "relative", top: "0.22em" }}>{t}</span>;
const TAU_TEXT = <>exp(−<i>τ</i>{scripts("HI", "U")})</>;
const FESC_TEXT = <><i>f</i><Sub t="esc" /></>;
const AUV_TEXT = <><i>A</i><Sub t="UV" /></>;
const R_TEXT = <><i style={{ fontFamily: "'DejaVu Serif', serif" }}>ℛ</i><Sub t="int" /></>;

const AXIS_TITLES = [
  { x: 404, y: 1803, size: 70, text: FESC_TEXT },
  { x: 830, y: 1811, size: 68, text: TAU_TEXT },
  { x: 1251, y: 1801, size: 64, text: AUV_TEXT },
  { x: 1676, y: 1805, size: 66, text: R_TEXT },
  { x: 55, y: 628, size: 68, text: TAU_TEXT, rot: true },
  { x: 63, y: 1053, size: 64, text: AUV_TEXT, rot: true },
  { x: 68, y: 1473, size: 66, text: R_TEXT, rot: true },
];
const LEGEND_ROWS = [
  { y: 143, color: DARK, text: <>Robust ( ≥ 5<i>σ</i>) U-band Detection</>, base: 168 },
  { y: 252, color: LIGHT, text: <>Non-Detection in U-band ( ≤ 1<i>σ</i>)</>, base: 277 },
];

export default function App() {
  const refs = useRef<(HTMLCanvasElement | null)[]>([]);
  useEffect(() => {
    const charts = PANELS.map((p, idx) => {
      const isHist = p.y === undefined;
      const xa = AXES[p.x];
      const ya = isHist ? null : AXES[p.y];
      const n = p.sets.length;
      return new Chart(refs.current[idx] as HTMLCanvasElement, {
        type: "scatter",
        data: { datasets: p.sets.map((s: any, i: number) => ({ ...s, order: n - i, clip: 0 })) },
        plugins: [framePlugin],
        options: {
          animation: false,
          responsive: false,
          devicePixelRatio: 1,
          events: [],
          layout: { padding: { top: M.t, right: M.r, left: 0, bottom: 0 } },
          plugins: { legend: { display: false }, tooltip: { enabled: false } },
          scales: {
            x: scaleOptions(xa, isHist ? xa.hist : xa.pair, true, p.row === 3),
            y: scaleOptions(ya, isHist ? [0, 1] : ya.pairY, false, !isHist && p.col === 0),
          },
        },
      } as any);
    });
    return () => charts.forEach((c) => c.destroy());
  }, []);
  return (
    <div style={{ position: "absolute", left: 0, top: 0, width: 1896, height: 1859, overflow: "hidden", background: "#fff", fontFamily: SERIF, color: INK }}>
      {PANELS.map((p, i) => (
        <canvas
          key={i}
          ref={(el) => { refs.current[i] = el; }}
          width={M.l + SIZE + M.r}
          height={M.t + SIZE + M.b}
          style={{ position: "absolute", left: COL_X[p.col] - M.l, top: ROW_Y[p.row] - M.t, width: M.l + SIZE + M.r, height: M.t + SIZE + M.b }}
        />
      ))}
      {LEGEND_ROWS.map((r, i) => (
        <React.Fragment key={i}>
          <div style={{ position: "absolute", left: 664, top: r.y - 6.5, width: 164, height: 13, borderRadius: 6.5, background: r.color }} />
          <div style={{ position: "absolute", left: 882, top: r.base - 0.8375 * 75.5, fontSize: 75.5, lineHeight: 1, whiteSpace: "nowrap" }}>{r.text}</div>
        </React.Fragment>
      ))}
      {AXIS_TITLES.map((t, i) => (
        <div key={i} style={{ position: "absolute", left: t.x, top: t.y, fontSize: t.size, lineHeight: 1, whiteSpace: "nowrap", transform: `translate(-50%,-50%)${t.rot ? " rotate(-90deg)" : ""}` }}>{t.text}</div>
      ))}
    </div>
  );
}
